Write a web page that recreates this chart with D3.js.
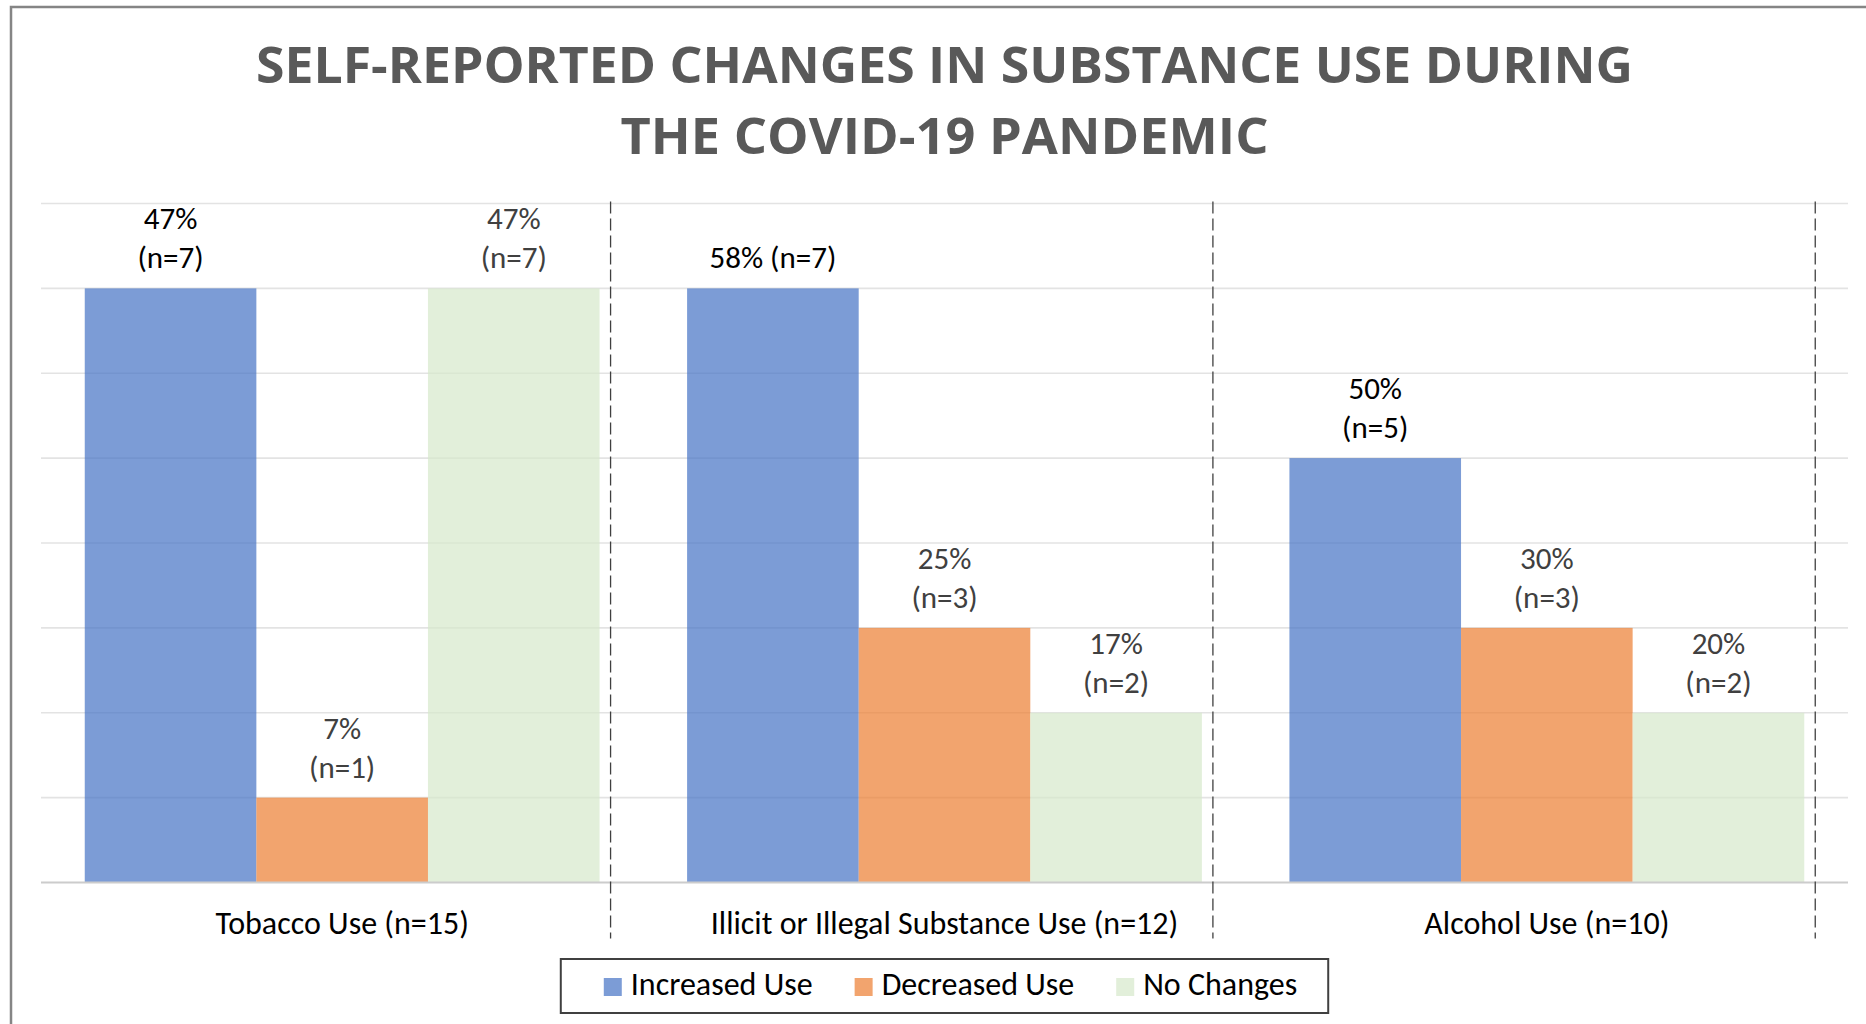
<!DOCTYPE html>
<html>
<head>
<meta charset="utf-8">
<script src="https://cdn.jsdelivr.net/npm/d3@7"></script>
<style>
  html, body { margin: 0; padding: 0; background: #fff; }
  svg { display: block; }
</style>
</head>
<body>
<div id="chart"></div>
<script>
const WIDTH = 1866;
const HEIGHT = 1024;
const PLOT = { left: 41, right: 1848, top: 203.5, bottom: 882.5 };
const FONT = "Carlito, Calibri, Lato, 'Open Sans', sans-serif";
const TITLE_FONT = "'Open Sans', Lato, sans-serif";

const titleLines = ["SELF-REPORTED CHANGES IN SUBSTANCE USE DURING", "THE COVID-19 PANDEMIC"];
const titleWidths = [1377, 648];
const categories = ["Tobacco Use (n=15)", "Illicit or Illegal Substance Use (n=12)", "Alcohol Use (n=10)"];
const seriesNames = ["Increased Use", "Decreased Use", "No Changes"];
const seriesColors = ["#4472c4", "#ed7d31", "#d6e8ca"];
const labelColors = ["#000000", "#404040", "#404040"];

// counts (n) per category, one array per series
const increasedN = [7, 7, 5];
const decreasedN = [1, 3, 3];
const noChangeN = [7, 2, 2];
// percents shown in the labels
const increasedPct = [47, 58, 50];
const decreasedPct = [7, 25, 30];
const noChangePct = [47, 17, 20];
// labels written on one line instead of two
const oneLineLabels = [[false, true, false], [false, false, false], [false, false, false]];

const yMax = 8;

const seriesN = [increasedN, decreasedN, noChangeN];
const seriesPct = [increasedPct, decreasedPct, noChangePct];

const bars = [];
seriesNames.forEach((s, si) => {
  categories.forEach((c, ci) => {
    bars.push({
      cat: c, series: s, si,
      n: seriesN[si][ci],
      pct: seriesPct[si][ci],
      oneLine: oneLineLabels[si][ci],
    });
  });
});

const svg = d3.select("#chart").append("svg")
  .attr("width", WIDTH).attr("height", HEIGHT)
  .attr("viewBox", `0 0 ${WIDTH} ${HEIGHT}`)
  .style("font-family", FONT);

svg.append("rect").attr("width", WIDTH).attr("height", HEIGHT).attr("fill", "#fff");

// chart frame (runs off the right and bottom edges in the source)
svg.append("rect")
  .attr("x", 11).attr("y", 7)
  .attr("width", WIDTH + 20).attr("height", HEIGHT + 20)
  .attr("fill", "none").attr("stroke", "#858585").attr("stroke-width", 2.5);

// title
titleLines.forEach((t, i) => {
  svg.append("text")
    .attr("x", (PLOT.left + PLOT.right) / 2)
    .attr("y", 83 + i * 71)
    .attr("text-anchor", "middle")
    .attr("font-family", TITLE_FONT)
    .attr("font-weight", "bold")
    .attr("font-size", 50)
    .attr("fill", "#595959")
    .attr("textLength", titleWidths[i])
    .attr("lengthAdjust", "spacingAndGlyphs")
    .text(t);
});

const x0 = d3.scaleBand().domain(categories).range([PLOT.left, PLOT.right]).padding(0);
const x1 = d3.scaleBand().domain(seriesNames).range([0, x0.bandwidth()])
  .paddingInner(0).paddingOuter(0.255);
const y = d3.scaleLinear().domain([0, yMax]).range([PLOT.bottom, PLOT.top]);

// gridlines
svg.append("g").selectAll("line")
  .data(y.ticks(yMax).filter((d) => d > 0))
  .join("line")
  .attr("x1", PLOT.left).attr("x2", PLOT.right)
  .attr("y1", (d) => y(d)).attr("y2", (d) => y(d))
  .attr("stroke", "#e3e3e3").attr("stroke-width", 1.6);

// bars
svg.append("g").selectAll("rect")
  .data(bars)
  .join("rect")
  .attr("x", (d) => x0(d.cat) + x1(d.series))
  .attr("y", (d) => y(d.n))
  .attr("width", x1.bandwidth())
  .attr("height", (d) => y(0) - y(d.n))
  .attr("fill", (d) => seriesColors[d.si])
  .attr("fill-opacity", 0.7);

// baseline
svg.append("line")
  .attr("x1", PLOT.left).attr("x2", PLOT.right)
  .attr("y1", y(0)).attr("y2", y(0))
  .attr("stroke", "#cccccc").attr("stroke-width", 2);

// dashed separators after each group
const sepX = (d) => x0(d) + x1.range()[1] - x1.step() * 0.255 + 11;
svg.append("g").selectAll("line")
  .data(categories)
  .join("line")
  .attr("x1", sepX)
  .attr("x2", sepX)
  .attr("y1", y(yMax) - 2).attr("y2", y(0) + 56)
  .attr("stroke", "#404040").attr("stroke-width", 1.3)
  .attr("stroke-dasharray", "12,5");

// data labels
const labels = svg.append("g").selectAll("text")
  .data(bars)
  .join("text")
  .attr("text-anchor", "middle")
  .attr("font-size", 31)
  .attr("fill", (d) => labelColors[d.si]);
labels.each(function (d) {
  const t = d3.select(this);
  const cx = x0(d.cat) + x1(d.series) + x1.bandwidth() / 2;
  if (d.oneLine) {
    t.append("tspan").attr("x", cx).attr("y", y(d.n) - 20).text(`${d.pct}% (n=${d.n})`);
  } else {
    t.append("tspan").attr("x", cx).attr("y", y(d.n) - 59).text(`${d.pct}%`);
    t.append("tspan").attr("x", cx).attr("y", y(d.n) - 20).text(`(n=${d.n})`);
  }
});

// category axis labels
svg.append("g").selectAll("text")
  .data(categories)
  .join("text")
  .attr("x", (d) => x0(d) + x0.bandwidth() / 2)
  .attr("y", y(0) + 51)
  .attr("text-anchor", "middle")
  .attr("font-size", 32)
  .attr("fill", "#000")
  .text((d) => d);

// legend
const legend = svg.append("g");
const items = legend.selectAll("g")
  .data(seriesNames)
  .join("g");
items.append("rect")
  .attr("width", 18).attr("height", 18)
  .attr("y", 978)
  .attr("fill", (d, i) => seriesColors[i])
  .attr("fill-opacity", 0.7);
items.append("text")
  .attr("x", 27).attr("y", 995)
  .attr("font-size", 32)
  .attr("fill", "#000")
  .text((d) => d);
let cursor = 0;
const offsets = [];
items.each(function () {
  offsets.push(cursor);
  cursor += 27 + d3.select(this).select("text").node().getComputedTextLength() + 42;
});
const legendWidth = cursor - 42;
const legendLeft = (PLOT.left + PLOT.right) / 2 - legendWidth / 2 + 6;
items.attr("transform", (d, i) => `translate(${legendLeft + offsets[i]},0)`);
legend.insert("rect", ":first-child")
  .attr("x", legendLeft - 43).attr("y", 959)
  .attr("width", legendWidth + 43 + 31).attr("height", 54)
  .attr("fill", "#fff").attr("stroke", "#404040").attr("stroke-width", 2);
</script>
</body>
</html>
